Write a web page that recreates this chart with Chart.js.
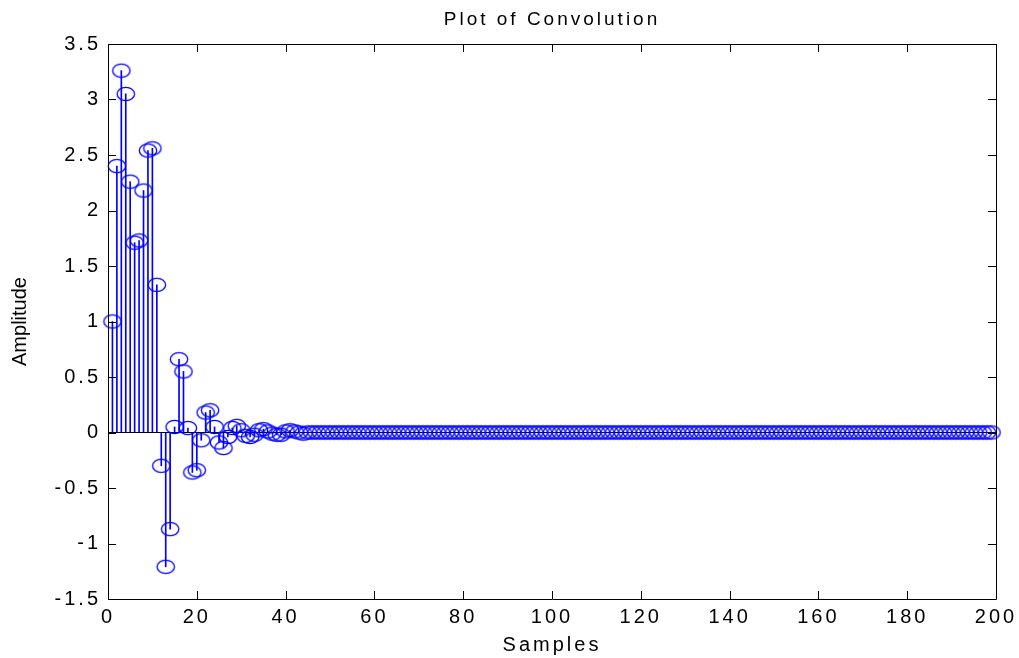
<!DOCTYPE html>
<html>
<head>
<meta charset="utf-8">
<title>Plot of Convolution</title>
<script src="https://cdn.jsdelivr.net/npm/chart.js@4.4.1/dist/chart.umd.min.js"></script>
<style>
  html, body { margin: 0; padding: 0; background: #fff; }
  canvas { display: block; }
</style>
</head>
<body>
<canvas id="chart" width="1019" height="658"></canvas>
<script>
// Convolution output, sample n = 1..199
const amplitude = [
  1.00, 2.40, 3.26, 3.05, 2.26, 1.71, 1.73, 2.18, 2.54, 2.56,
  1.33, -0.30, -1.21, -0.87, 0.05, 0.66, 0.55, 0.04, -0.36, -0.34,
  -0.07, 0.18, 0.20, 0.05, -0.09, -0.14, -0.04, 0.04, 0.06, 0.02,
  -0.03, -0.04, -0.02, 0.02, 0.03, 0.01, -0.01, -0.02, -0.02, 0.01,
  0.02, 0.01, 0.00, -0.01, 0, 0, 0, 0, 0, 0,
  0, 0, 0, 0, 0, 0, 0, 0, 0, 0,
  0, 0, 0, 0, 0, 0, 0, 0, 0, 0,
  0, 0, 0, 0, 0, 0, 0, 0, 0, 0,
  0, 0, 0, 0, 0, 0, 0, 0, 0, 0,
  0, 0, 0, 0, 0, 0, 0, 0, 0, 0,
  0, 0, 0, 0, 0, 0, 0, 0, 0, 0,
  0, 0, 0, 0, 0, 0, 0, 0, 0, 0,
  0, 0, 0, 0, 0, 0, 0, 0, 0, 0,
  0, 0, 0, 0, 0, 0, 0, 0, 0, 0,
  0, 0, 0, 0, 0, 0, 0, 0, 0, 0,
  0, 0, 0, 0, 0, 0, 0, 0, 0, 0,
  0, 0, 0, 0, 0, 0, 0, 0, 0, 0,
  0, 0, 0, 0, 0, 0, 0, 0, 0, 0,
  0, 0, 0, 0, 0, 0, 0, 0, 0, 0,
  0, 0, 0, 0, 0, 0, 0, 0, 0,
];
const samples = amplitude.map((_, i) => i + 1);

const xTicks = [0, 20, 40, 60, 80, 100, 120, 140, 160, 180, 200];
const yTicks = [-1.5, -1, -0.5, 0, 0.5, 1, 1.5, 2, 2.5, 3, 3.5];

const points = samples.map((n, i) => ({ x: n, y: amplitude[i] }));

const BLUE = "rgb(0,0,255)";
const FONT = "'Liberation Sans', Arial, sans-serif";

// open ellipse marker, like MATLAB's stem 'o'
const marker = document.createElement("canvas");
marker.width = 22;
marker.height = 18;
{
  const m = marker.getContext("2d");
  m.strokeStyle = BLUE;
  m.lineWidth = 1.3;
  m.beginPath();
  m.ellipse(11, 9, 8.7, 6.7, 0, 0, Math.PI * 2);
  m.stroke();
}

// box, inward ticks and the y label
const matlabAxes = {
  id: "matlabAxes",
  beforeDraw(chart) {
    chart.ctx.letterSpacing = "3px";
  },
  afterDraw(chart) {
    const { ctx, chartArea: a, scales } = chart;
    const len = 8;
    ctx.save();
    ctx.strokeStyle = "#000";
    ctx.lineWidth = 1;
    ctx.beginPath();
    ctx.rect(a.left + 0.5, a.top + 0.5, a.right - a.left, a.bottom - a.top);
    xTicks.forEach((v) => {
      const px = Math.round(scales.x.getPixelForValue(v)) + 0.5;
      ctx.moveTo(px, a.bottom);
      ctx.lineTo(px, a.bottom - len);
      ctx.moveTo(px, a.top);
      ctx.lineTo(px, a.top + len);
    });
    yTicks.forEach((v) => {
      const py = Math.round(scales.y.getPixelForValue(v)) + 0.5;
      ctx.moveTo(a.left, py);
      ctx.lineTo(a.left + len, py);
      ctx.moveTo(a.right, py);
      ctx.lineTo(a.right - len, py);
    });
    ctx.stroke();

    ctx.letterSpacing = "0px";
    ctx.fillStyle = "#000";
    ctx.font = "20px " + FONT;
    ctx.textAlign = "center";
    ctx.textBaseline = "middle";
    ctx.translate(20, (a.top + a.bottom) / 2);
    ctx.rotate(-Math.PI / 2);
    ctx.fillText("Amplitude", 0, 0);
    ctx.restore();
  },
};

new Chart(document.getElementById("chart"), {
  type: "bar",
  data: {
    datasets: [
      {
        type: "bar",
        data: points,
        backgroundColor: BLUE,
        borderWidth: 0,
        barThickness: 1,
        order: 2,
      },
      {
        type: "scatter",
        data: points,
        pointStyle: marker,
        pointRadius: 4,
        clip: false,
        order: 1,
      },
    ],
  },
  options: {
    responsive: false,
    animation: false,
    devicePixelRatio: 1,
    layout: { padding: { left: 0, right: 23, top: 0, bottom: 0 } },
    plugins: {
      legend: { display: false },
      tooltip: { enabled: false },
      title: { display: false },
    },
    scales: {
      x: {
        type: "linear",
        min: 0,
        max: 200,
        offset: false,
        afterFit: (s) => { s.height = 59; },
        afterBuildTicks: (s) => { s.ticks = xTicks.map((v) => ({ value: v })); },
        ticks: {
          color: "#000",
          padding: 6,
          maxRotation: 0,
          font: { family: FONT, size: 20 },
          callback: (v) => String(v),
        },
        grid: { display: false, drawTicks: false },
        border: { display: false },
        title: {
          display: true,
          text: "Samples",
          color: "#000",
          font: { family: FONT, size: 20 },
          padding: { top: 0, bottom: 1 },
        },
      },
      // top axis only carries the plot title, centred over the axes
      top: {
        type: "linear",
        position: "top",
        min: 0,
        max: 200,
        offset: false,
        afterFit: (s) => { s.height = 44; },
        ticks: { display: false },
        grid: { display: false, drawTicks: false },
        border: { display: false },
        title: {
          display: true,
          text: "Plot of Convolution",
          color: "#000",
          font: { family: FONT, size: 19 },
          padding: { top: 8, bottom: 0 },
        },
      },
      y: {
        type: "linear",
        min: -1.5,
        max: 3.5,
        afterFit: (s) => { s.width = 108; },
        afterBuildTicks: (s) => { s.ticks = yTicks.map((v) => ({ value: v })); },
        ticks: {
          color: "#000",
          padding: 7,
          font: { family: FONT, size: 20 },
          callback: (v) => String(v),
        },
        grid: {
          drawTicks: false,
          color: (c) => (c.tick && c.tick.value === 0 ? "#000" : "rgba(0,0,0,0)"),
        },
        border: { display: false },
      },
    },
  },
  plugins: [matlabAxes],
});
</script>
</body>
</html>
